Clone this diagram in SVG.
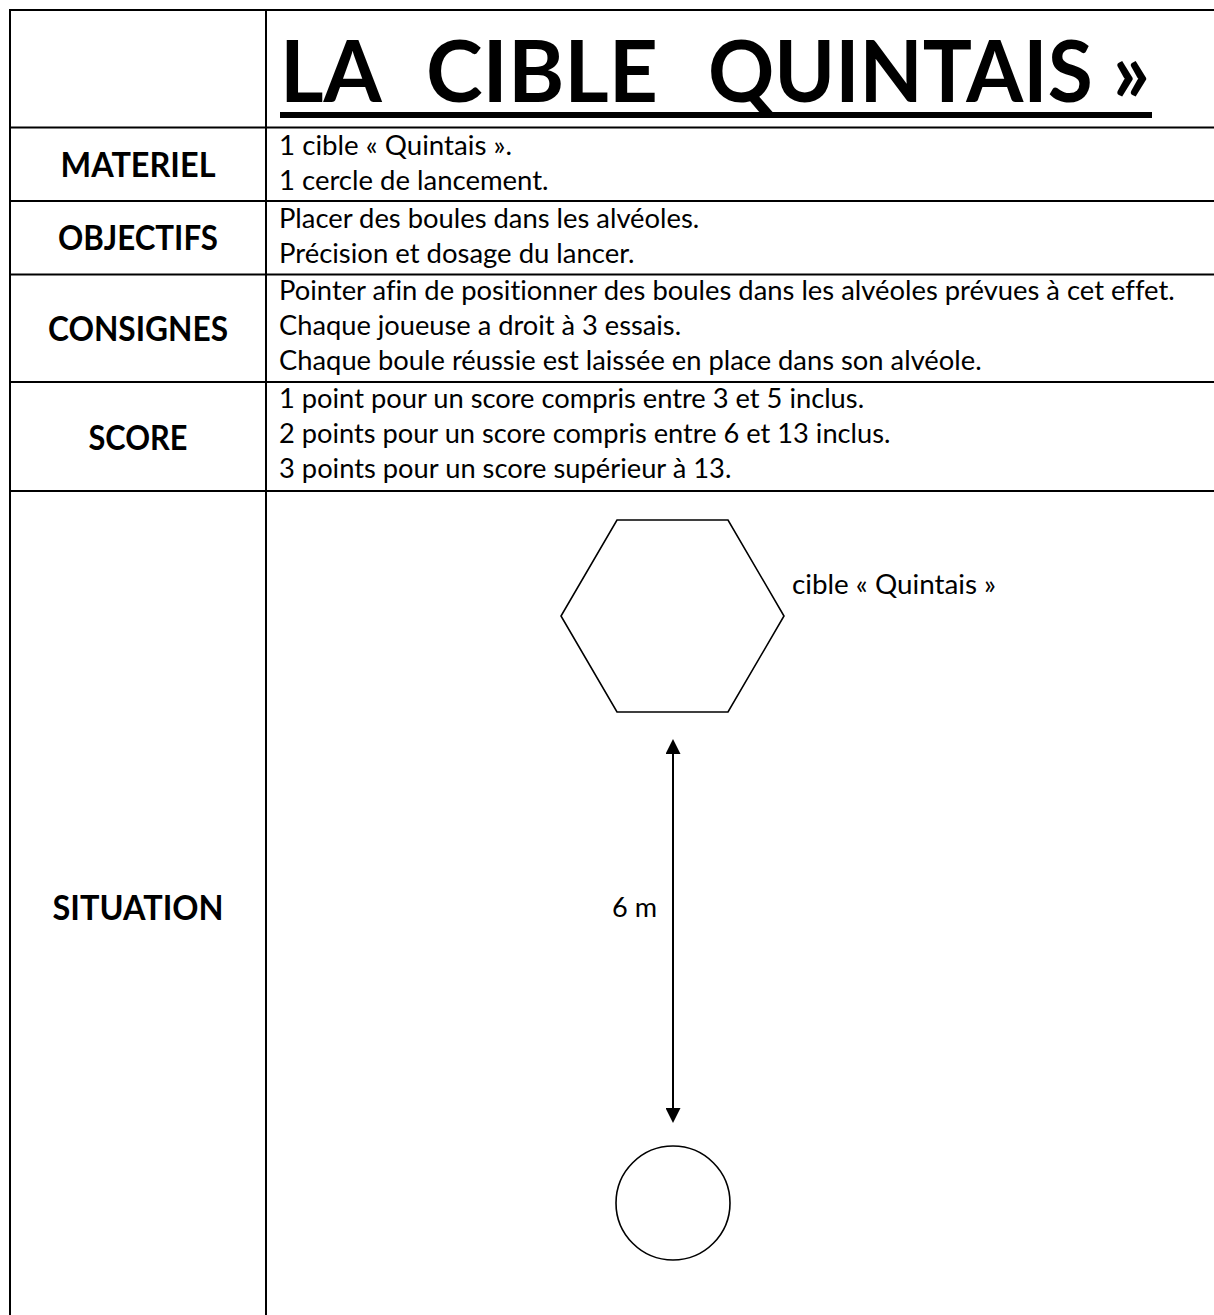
<svg xmlns="http://www.w3.org/2000/svg" width="1214" height="1315" viewBox="0 0 1214 1315">
<style>
  .grid { stroke: #000; stroke-width: 2; fill: none; }
  .lbl { font-family: Lato, "Liberation Sans", sans-serif; font-weight: bold; font-size: 33.6px; fill: #000; text-anchor: middle; }
  .body { font-family: Lato, "Liberation Sans", sans-serif; font-size: 26.4px; fill: #000; font-variant-ligatures: none; }
  .title { font-family: Lato, "Liberation Sans", sans-serif; font-weight: bold; font-size: 86.4px; fill: #000; }
  .shape { stroke: #000; stroke-width: 1.6; fill: #fff; }
  .conn { stroke: #000; stroke-width: 2; fill: none; }
</style>
<defs>
  <marker id="ah" viewBox="0 0 10 10" refX="0" refY="5" markerWidth="15" markerHeight="15" markerUnits="userSpaceOnUse" orient="auto-start-reverse">
    <path d="M0,0 L10,5 L0,10 z" fill="#000"/>
  </marker>
</defs>
<rect x="0" y="0" width="1214" height="1315" fill="#fff"/>

<g id="table-grid">
  <line class="grid" x1="9" y1="10" x2="1214" y2="10"/>
  <line class="grid" x1="9" y1="127.5" x2="1214" y2="127.5"/>
  <line class="grid" x1="9" y1="201" x2="1214" y2="201"/>
  <line class="grid" x1="9" y1="274.5" x2="1214" y2="274.5"/>
  <line class="grid" x1="9" y1="382" x2="1214" y2="382"/>
  <line class="grid" x1="9" y1="491" x2="1214" y2="491"/>
  <line class="grid" x1="10" y1="9" x2="10" y2="1315"/>
  <line class="grid" x1="266" y1="9" x2="266" y2="1315"/>
</g>

<g id="title">
  <text class="title" y="102"><tspan x="280" textLength="99" lengthAdjust="spacingAndGlyphs">LA</tspan> <tspan x="426" textLength="232" lengthAdjust="spacingAndGlyphs">CIBLE</tspan> <tspan x="708" textLength="442" lengthAdjust="spacingAndGlyphs">QUINTAIS »</tspan></text>
  <rect x="280" y="112" width="872" height="6" fill="#000"/>
</g>

<g id="row-materiel">
  <text class="lbl" x="138" y="177" textLength="155" lengthAdjust="spacingAndGlyphs">MATERIEL</text>
  <text class="body" x="279" y="155" textLength="233" lengthAdjust="spacingAndGlyphs">1 cible « Quintais ».</text>
  <text class="body" x="279" y="190" textLength="269.6" lengthAdjust="spacingAndGlyphs">1 cercle de lancement.</text>
</g>

<g id="row-objectifs">
  <text class="lbl" x="138" y="250" textLength="160" lengthAdjust="spacingAndGlyphs">OBJECTIFS</text>
  <text class="body" x="279" y="228" textLength="420.3" lengthAdjust="spacingAndGlyphs">Placer des boules dans les alvéoles.</text>
  <text class="body" x="279" y="263" textLength="355.6" lengthAdjust="spacingAndGlyphs">Précision et dosage du lancer.</text>
</g>

<g id="row-consignes">
  <text class="lbl" x="138" y="341" textLength="180" lengthAdjust="spacingAndGlyphs">CONSIGNES</text>
  <text class="body" x="279" y="300" textLength="895.7" lengthAdjust="spacingAndGlyphs">Pointer afin de positionner des boules dans les alvéoles prévues à cet effet.</text>
  <text class="body" x="279" y="335" textLength="402.1" lengthAdjust="spacingAndGlyphs">Chaque joueuse a droit à 3 essais.</text>
  <text class="body" x="279" y="370" textLength="702.6" lengthAdjust="spacingAndGlyphs">Chaque boule réussie est laissée en place dans son alvéole.</text>
</g>

<g id="row-score">
  <text class="lbl" x="138" y="450" textLength="99" lengthAdjust="spacingAndGlyphs">SCORE</text>
  <text class="body" x="279" y="408" textLength="585.1" lengthAdjust="spacingAndGlyphs">1 point pour un score compris entre 3 et 5 inclus.</text>
  <text class="body" x="279" y="443" textLength="611.4" lengthAdjust="spacingAndGlyphs">2 points pour un score compris entre 6 et 13 inclus.</text>
  <text class="body" x="279" y="478" textLength="452.4" lengthAdjust="spacingAndGlyphs">3 points pour un score supérieur à 13.</text>
</g>

<g id="row-situation">
  <text class="lbl" x="138" y="920" textLength="171" lengthAdjust="spacingAndGlyphs">SITUATION</text>
</g>

<g id="cible-quintais">
  <polygon class="shape" points="617,520 728,520 784,616 728,712 617,712 561,616"/>
  <text class="body" x="792" y="594" textLength="204" lengthAdjust="spacingAndGlyphs">cible « Quintais »</text>
</g>

<g id="cercle-lancement">
  <circle class="shape" cx="673" cy="1203" r="57"/>
</g>

<g id="connectors">
  <line class="conn" x1="673" y1="754" x2="673" y2="1108" marker-start="url(#ah)" marker-end="url(#ah)"/>
  <text class="body" x="612" y="917" textLength="45" lengthAdjust="spacingAndGlyphs">6 m</text>
</g>
</svg>
